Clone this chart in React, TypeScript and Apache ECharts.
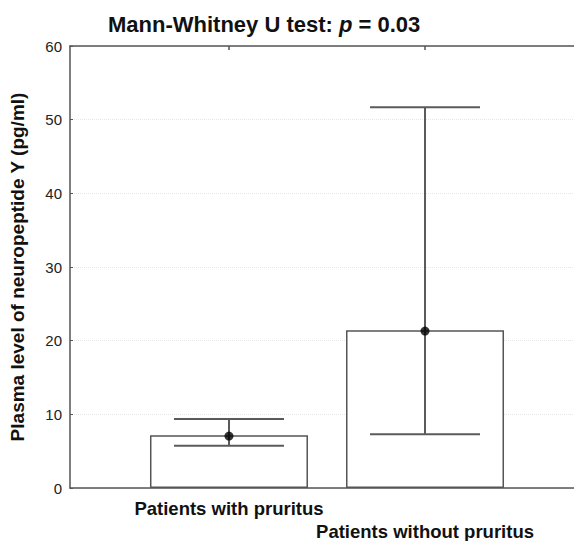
import React, { useEffect, useRef } from "react";
import * as echarts from "echarts";

const categories = ["Patients with pruritus", "Patients without pruritus"];
const categoryPositions = [1, 2];
const barHeights = [7.15, 21.4];
const medians = [7.05, 21.3];
const lowerBounds = [5.75, 7.3];
const upperBounds = [9.35, 51.7];
const yTicks = [0, 10, 20, 30, 40, 50, 60];

const FONT = "'Liberation Sans', Arial, sans-serif";
const LINE = "#555555";

export default function App() {
  const ref = useRef<HTMLDivElement>(null);
  useEffect(() => {
    if (!ref.current) return;
    const chart = echarts.init(ref.current, null, { renderer: "svg" });
    const xMin = 0.189;
    const xMax = 2.76;
    const labelFor = (v: number) => {
      const i = categoryPositions.indexOf(Math.round(v));
      return i < 0 ? "" : categories[i];
    };
    const labelStyle = {
      fontFamily: FONT,
      fontWeight: "bold",
      fontSize: 18.5,
      color: "#111",
      showMinLabel: true,
      showMaxLabel: true,
      hideOverlap: false,
      formatter: labelFor,
    };
    chart.setOption({
      animation: false,
      backgroundColor: "#ffffff",
      title: {
        text: "{b|Mann-Whitney U test: }{i|p}{b| = 0.03}",
        left: 103,
        top: 8,
        textStyle: {
          rich: {
            b: { fontFamily: FONT, fontWeight: "bold", fontSize: 22, color: "#111" },
            i: { fontFamily: FONT, fontWeight: "bold", fontStyle: "italic", fontSize: 22, color: "#111" },
          },
        },
      },
      grid: { left: 70, right: 0, top: 46, height: 444, containLabel: false },
      xAxis: [
        {
          type: "value",
          position: "bottom",
          min: xMin,
          max: xMax,
          axisLine: { show: true, lineStyle: { color: LINE, width: 1.5 } },
          axisTick: { show: true, inside: true, length: 4, customValues: categoryPositions, lineStyle: { color: LINE, width: 1.5 } },
          splitLine: { show: false },
          axisLabel: { show: true, customValues: [categoryPositions[0]], margin: 11, ...labelStyle },
        },
        {
          type: "value",
          position: "top",
          min: xMin,
          max: xMax,
          axisLine: { show: true, onZero: false, lineStyle: { color: LINE, width: 1.5 } },
          axisTick: { show: true, inside: true, length: 4, customValues: categoryPositions, lineStyle: { color: LINE, width: 1.5 } },
          splitLine: { show: false },
          axisLabel: { show: false },
        },
        {
          type: "value",
          position: "bottom",
          offset: 0,
          min: xMin,
          max: xMax,
          axisLine: { show: false },
          axisTick: { show: false },
          splitLine: { show: false },
          axisLabel: { show: true, customValues: [categoryPositions[1]], margin: 34, ...labelStyle },
        },
      ],
      yAxis: {
        type: "value",
        min: yTicks[0],
        max: yTicks[yTicks.length - 1],
        interval: 10,
        name: "Plasma level of neuropeptide Y (pg/ml)",
        nameLocation: "middle",
        nameGap: 43,
        nameTextStyle: { fontFamily: FONT, fontWeight: "bold", fontSize: 19, color: "#111" },
        axisLine: { show: true, lineStyle: { color: LINE, width: 1.5 } },
        axisTick: { show: true, inside: true, length: 3, lineStyle: { color: LINE } },
        axisLabel: { fontFamily: FONT, fontSize: 15, color: "#222", margin: 8 },
        splitLine: { show: true, lineStyle: { color: "#e6e6e6", type: "dotted", width: 1 } },
      },
      series: [
        {
          type: "bar",
          xAxisIndex: 0,
          barWidth: 158,
          data: categoryPositions.map((x, i) => [x, barHeights[i]]),
          itemStyle: { color: "#ffffff", borderColor: LINE, borderWidth: 1.5 },
          z: 2,
        },
        {
          type: "custom",
          xAxisIndex: 0,
          data: categoryPositions.map((x, i) => [x, lowerBounds[i], upperBounds[i]]),
          renderItem: (params: any, api: any) => {
            const x = api.value(0);
            const lo = api.coord([x, api.value(1)]);
            const hi = api.coord([x, api.value(2)]);
            const half = 55;
            const style = { stroke: "#5a5a5a", lineWidth: 2 };
            return {
              type: "group",
              children: [
                { type: "line", shape: { x1: lo[0], y1: lo[1], x2: hi[0], y2: hi[1] }, style },
                { type: "line", shape: { x1: hi[0] - half, y1: hi[1], x2: hi[0] + half, y2: hi[1] }, style },
                { type: "line", shape: { x1: lo[0] - half, y1: lo[1], x2: lo[0] + half, y2: lo[1] }, style },
              ],
            };
          },
          z: 3,
        },
        {
          type: "scatter",
          xAxisIndex: 0,
          symbol: "circle",
          symbolSize: 9,
          data: categoryPositions.map((x, i) => [x, medians[i]]),
          itemStyle: { color: "#000000" },
          z: 4,
        },
      ],
    });
    return () => chart.dispose();
  }, []);
  return (
    <div
      ref={ref}
      style={{ position: "fixed", left: 0, top: 0, width: 574, height: 541, background: "#fff" }}
    />
  );
}
